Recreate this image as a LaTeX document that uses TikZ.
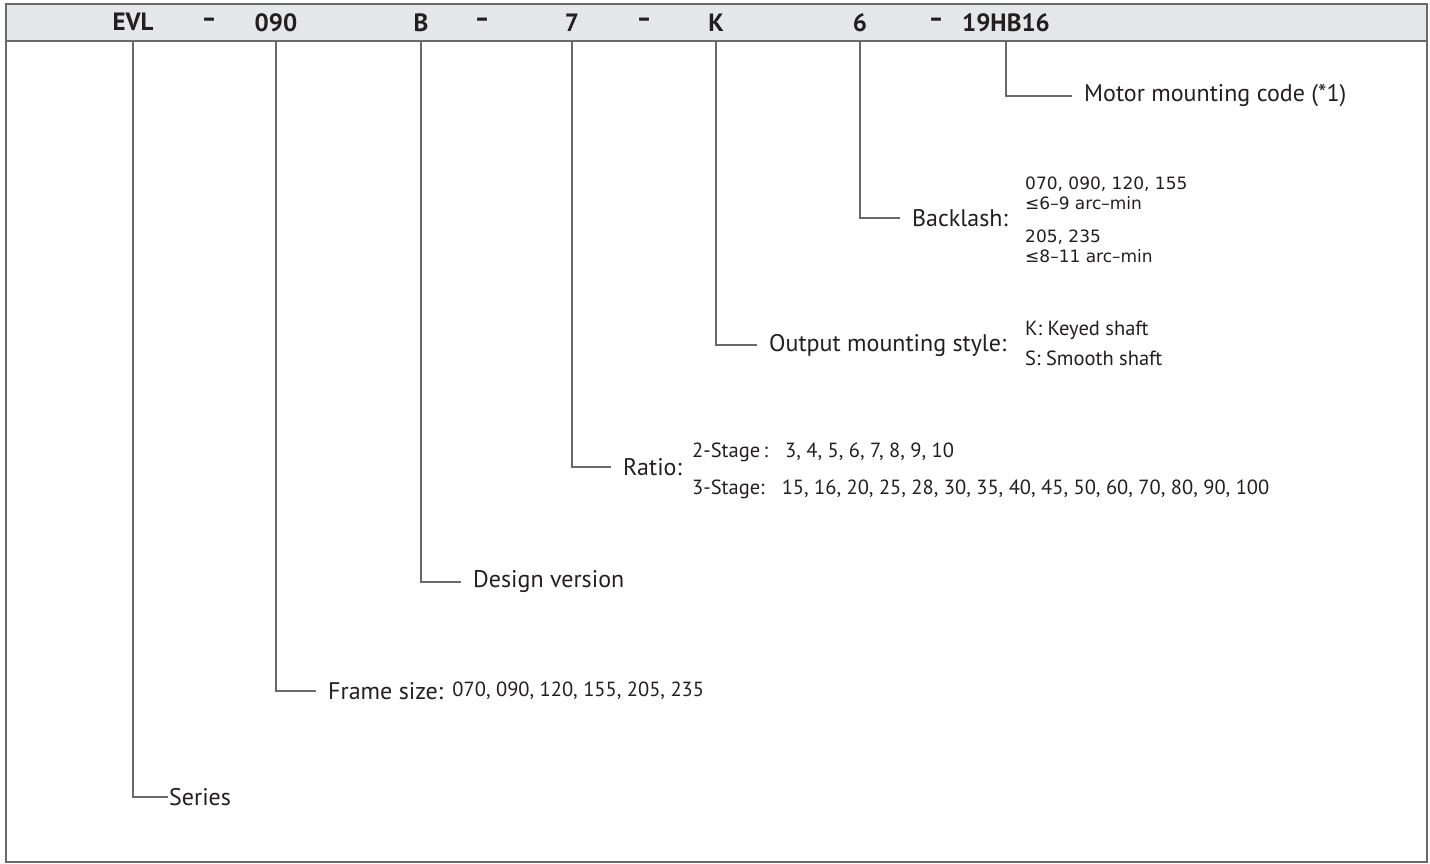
\documentclass[tikz,border=0pt]{standalone}
\usepackage{fontspec}
\setmainfont{PT Sans}
\newfontfamily\gothfont{DejaVu Sans}
\usetikzlibrary{positioning}
\definecolor{bandgray}{RGB}{230,231,232}
\definecolor{linegray}{RGB}{105,105,105}
\definecolor{inkgray}{RGB}{35,31,32}

\begin{document}
\begin{tikzpicture}
  [x=1pt,y=-1pt,
   codeN/.style={anchor=south,minimum height=37pt,inner sep=0pt,text=inkgray,
                 font=\fontsize{25}{28}\selectfont\bfseries},
   dashN/.style={codeN,font=\gothfont\fontsize{25}{28}\selectfont\bfseries},
   labelN/.style={anchor=west,inner ysep=0pt,inner xsep=12pt,text=inkgray,
                  font=\fontsize{24}{28}\selectfont},
   noteN/.style={anchor=west,inner sep=0pt,align=left,text=inkgray,
                 font=\fontsize{20.5}{24}\selectfont},
   gothN/.style={noteN,font=\gothfont\fontsize{17}{20}\selectfont},
   conn/.style={linegray,line width=1.1pt}]

  % frame and header band
  \useasboundingbox (0,0) rectangle (1430,864);
  \fill[white] (0,0) rectangle (1430,864);
  \filldraw[fill=bandgray,draw=linegray,line width=1.4pt] (6,4) rectangle (1427,41);
  \draw[linegray,line width=1.4pt] (6,41) -- (6,862) -- (1427,862) -- (1427,41);

  % model code
  \path (133,41)  node[codeN] (evl)   {EVL}
        (209,41)  node[dashN] (dA)    {–}
        (276,41)  node[codeN] (size)  {090}
        (421,41)  node[codeN] (ver)   {B}
        (482,41)  node[dashN] (dB)    {–}
        (572,41)  node[codeN] (ratio) {7}
        (644,41)  node[dashN] (dC)    {–}
        (716,41)  node[codeN] (shaft) {K}
        (860,41)  node[codeN] (blash) {6}
        (936,41)  node[dashN] (dD)    {–}
        (1006,41) node[codeN] (motor) {19HB16};

  % labels
  \node[labelN] (motorL) at (1072,96)  {Motor mounting code (*1)};
  \node[labelN] (blashL) at (900,218)  {Backlash:};
  \node[labelN] (shaftL) at (757,345)  {Output mounting style:};
  \node[labelN] (ratioL) at (611,467)  {Ratio:};
  \node[labelN] (verL)   at (461,582)  {Design version};
  \node[labelN] (sizeL)  at (316,691)  {Frame size:};
  \node[labelN,inner xsep=1pt] (evlL) at (168,797) {Series};

  % option lists
  \node[gothN] (blashA) at (1025,193) {070, 090, 120, 155\\≤6–9 arc–min};
  \node[gothN] (blashB) at (1025,246) {205, 235\\≤8–11 arc–min};
  \node[noteN,font=\fontsize{20.5}{30}\selectfont] (shaftA) at (1025,343)
       {K: Keyed shaft\\S: Smooth shaft};
  \node[noteN] (ratioA) at (692,452) {2-Stage\,:\;\;\;3, 4, 5, 6, 7, 8, 9, 10};
  \node[noteN] (ratioB) at (692,489)
       {3-Stage:\;\;\;15, 16, 20, 25, 28, 30, 35, 40, 45, 50, 60, 70, 80, 90, 100};
  \node[noteN] (sizeA) [right=-3pt of sizeL.east,inner sep=0pt] {070, 090, 120, 155, 205, 235};

  % connectors
  \draw[conn] (motor.south) |- (motorL.west);
  \draw[conn] (blash.south) |- (blashL.west);
  \draw[conn] (shaft.south) |- (shaftL.west);
  \draw[conn] (ratio.south) |- (ratioL.west);
  \draw[conn] (ver.south)   |- (verL.west);
  \draw[conn] (size.south)  |- (sizeL.west);
  \draw[conn] (evl.south)   |- (evlL.west);

\end{tikzpicture}
\end{document}
